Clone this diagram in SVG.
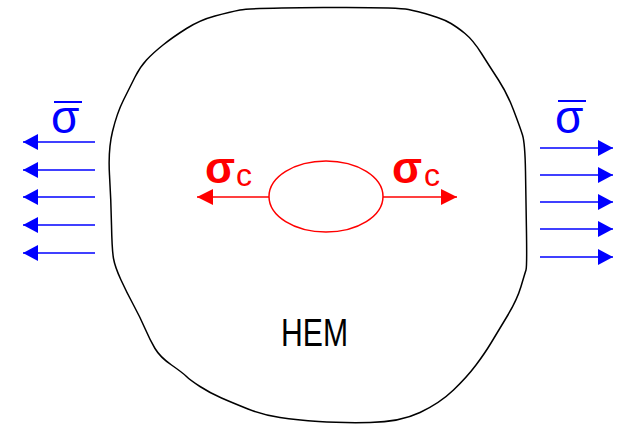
<svg xmlns="http://www.w3.org/2000/svg" width="620" height="425" viewBox="0 0 620 425">
<defs>
<style>
.blue{stroke:#0000ff;stroke-width:1.5;fill:none}
.red{stroke:#ff0000;stroke-width:1.5;fill:none}
.sb{font-family:"Liberation Sans",Arial,sans-serif;fill:#0000ff;font-size:46px}
.sr{font-family:"Liberation Sans",Arial,sans-serif;fill:#ff0000}
</style>
<marker id="ab" markerUnits="userSpaceOnUse" markerWidth="16" markerHeight="16" refX="15" refY="8" orient="auto"><path d="M0,0 L15,8 L0,16 Z" fill="#0000ff"/></marker>
<marker id="ar" markerUnits="userSpaceOnUse" markerWidth="17" markerHeight="16" refX="16" refY="8" orient="auto"><path d="M0,0 L16,8 L0,16 Z" fill="#ff0000"/></marker>
</defs>
<rect width="620" height="425" fill="#ffffff"/>
<g id="hem">
<path d="M323.5,7.5 Q397,7 408.5,9.5 Q420,12 425,13.5 Q430,15 437.5,17.5 Q445,20 451,23.5 Q457,27 465,33.5 Q473,40 481.5,53.5 Q490,67 498.5,80 Q507,93 513.5,110 Q520,127 522.5,135 Q525,143 525.5,171.5 Q526,200 526.5,233.5 Q527,267 526,270 Q525,273 521,286.5 Q517,300 507,316.5 Q497,333 491,343 Q485,353 476,365 Q467,377 453.5,390 Q440,403 420,412.5 Q400,422 370,422.5 Q340,423 318.5,421.5 Q297,420 280,417.5 Q263,415 248,409 Q233,403 221.5,398 Q210,393 200,386.5 Q190,380 186.5,376.5 Q183,373 171.5,365 Q160,357 155,348.5 Q150,340 145,328.5 Q140,317 133.5,305 Q127,293 121,280 Q115,267 113.5,258.5 Q112,250 111.5,225 Q111,200 109.5,175 Q108,150 112.5,131.5 Q117,113 123.5,100 Q130,87 135,77 Q140,67 146.5,60 Q153,53 163,45 Q173,37 186.5,28.5 Q200,20 215,16 Q230,12 240,10 Q250,8 323.5,7.5 Z" fill="none" stroke="#000" stroke-width="1.5" stroke-linejoin="round"/>
<text x="314.5" y="346" font-family="'Liberation Sans',Arial,sans-serif" font-size="39" text-anchor="middle" textLength="67" lengthAdjust="spacingAndGlyphs">HEM</text>
</g>
<g id="inclusion">
<ellipse cx="326" cy="196.5" rx="57" ry="35.5" fill="none" stroke="#ff0000" stroke-width="1.5"/>
</g>
<g id="label-left-sigma">
<text class="sb" x="51" y="133">σ</text>
<line x1="54" y1="102" x2="82" y2="102" stroke="#0000ff" stroke-width="2"/>
</g>
<g id="label-right-sigma">
<text class="sb" x="555" y="133">σ</text>
<line x1="558" y1="101" x2="586" y2="101" stroke="#0000ff" stroke-width="2"/>
</g>
<g id="label-left-sigmac">
<text class="sr" x="205" y="183" font-size="44" font-weight="bold">σ</text>
<text class="sr" x="236" y="186" font-size="32">c</text>
</g>
<g id="label-right-sigmac">
<text class="sr" x="392" y="183" font-size="44" font-weight="bold">σ</text>
<text class="sr" x="424" y="186" font-size="32">c</text>
</g>
<g id="connectors">
<line class="blue" x1="95" y1="142" x2="23" y2="142" marker-end="url(#ab)"/>
<line class="blue" x1="95" y1="170" x2="23" y2="170" marker-end="url(#ab)"/>
<line class="blue" x1="95" y1="197" x2="23" y2="197" marker-end="url(#ab)"/>
<line class="blue" x1="95" y1="225" x2="23" y2="225" marker-end="url(#ab)"/>
<line class="blue" x1="95" y1="253" x2="23" y2="253" marker-end="url(#ab)"/>
<line class="blue" x1="540" y1="148" x2="613" y2="148" marker-end="url(#ab)"/>
<line class="blue" x1="540" y1="175" x2="613" y2="175" marker-end="url(#ab)"/>
<line class="blue" x1="540" y1="202" x2="613" y2="202" marker-end="url(#ab)"/>
<line class="blue" x1="540" y1="229" x2="613" y2="229" marker-end="url(#ab)"/>
<line class="blue" x1="540" y1="257" x2="613" y2="257" marker-end="url(#ab)"/>
<line class="red" x1="269" y1="197" x2="197" y2="197" marker-end="url(#ar)"/>
<line class="red" x1="383" y1="197" x2="457" y2="197" marker-end="url(#ar)"/>
</g>
</svg>
